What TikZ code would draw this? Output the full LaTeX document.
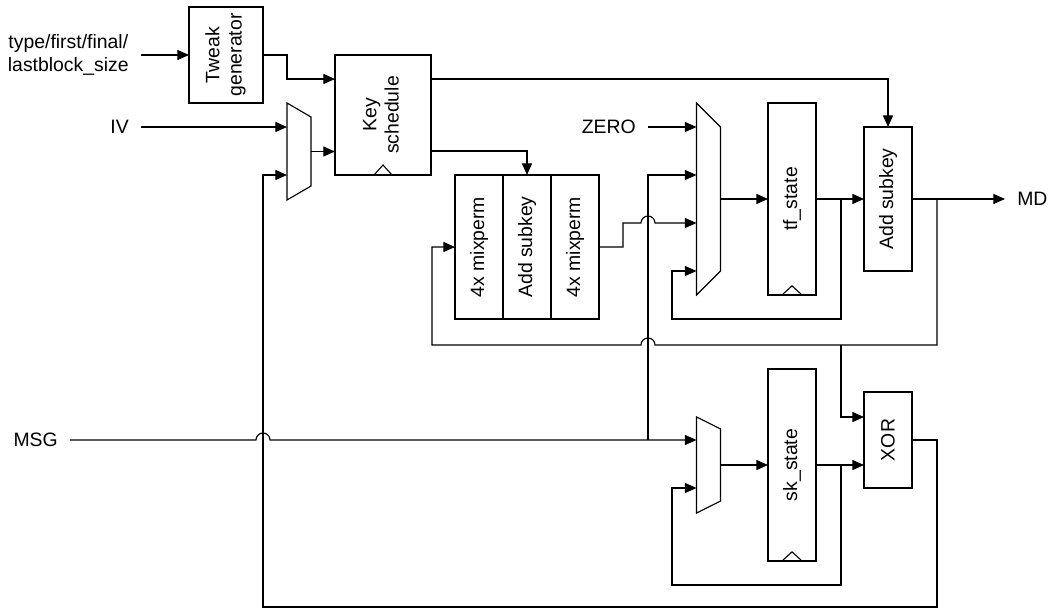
\documentclass[tikz,border=0pt]{standalone}
\usepackage{fontspec}
\setmainfont{Liberation Sans}
\usetikzlibrary{arrows.meta,calc}
\begin{document}
\begin{tikzpicture}[x=0.025cm,y=-0.025cm,
  font=\fontsize{13.8}{15.8}\selectfont,
  box/.style={draw, line width=0.8pt, inner sep=0pt, outer sep=0pt, minimum width=1.2cm},
  muxn/.style={inner sep=0pt, outer sep=0pt, minimum width=0.6cm},
  lbl/.style={inner xsep=0.3cm, inner ysep=0pt, align=center},
  wire/.style={line width=0.8pt},
  arr/.style={wire, -{Triangle[length=2.9mm,width=2.5mm]}}
]
\useasboundingbox (0,0) rectangle (1052,609);

% boxes
\node[box, minimum width=1.85cm, minimum height=2.4cm] (tw) at (226,55)
  {\rotatebox{90}{\begin{tabular}{@{}c@{}}Tweak\\generator\end{tabular}}};
\node[box, minimum width=2.4cm, minimum height=3cm] (key) at (383,115)
  {\rotatebox{90}{\begin{tabular}{@{}c@{}}Key\\schedule\end{tabular}}};
\node[box, minimum height=3.6cm] (mixa) at (479,247) {\rotatebox{90}{4x mixperm}};
\node[box, minimum height=3.6cm] (adda) at (527,247) {\rotatebox{90}{Add subkey}};
\node[box, minimum height=3.6cm] (mixb) at (575,247) {\rotatebox{90}{4x mixperm}};
\node[box, minimum height=4.8cm] (tf) at (792,199) {\rotatebox{90}{tf\_state}};
\node[box, minimum height=3.6cm] (addb) at (888,199) {\rotatebox{90}{Add subkey}};
\node[box, minimum height=4.8cm] (sk) at (792,465) {\rotatebox{90}{sk\_state}};
\node[box, minimum height=2.4cm] (xor) at (888,440) {\rotatebox{90}{XOR}};

% clock marks
\draw[wire] ([xshift=-0.225cm]key.south) -- ([yshift=0.25cm]key.south) -- ([xshift=0.225cm]key.south);
\draw[wire] ([xshift=-0.25cm]tf.south) -- ([yshift=0.23cm]tf.south) -- ([xshift=0.25cm]tf.south);
\draw[wire] ([xshift=-0.25cm]sk.south) -- ([yshift=0.23cm]sk.south) -- ([xshift=0.25cm]sk.south);

% multiplexers
\node[muxn, minimum height=2.425cm] (ma) at (299,151.5) {};
\node[muxn, minimum height=4.8cm] (mb) at (708.5,199) {};
\node[muxn, minimum height=2.4cm] (mc) at (708.5,465) {};
\draw[wire] (ma.north west) -- ([yshift=-0.35cm]ma.north east) -- ([yshift=0.35cm]ma.south east) -- (ma.south west) -- cycle;
\draw[wire] (mb.north west) -- ([yshift=-0.6cm]mb.north east) -- ([yshift=0.6cm]mb.south east) -- (mb.south west) -- cycle;
\draw[wire] (mc.north west) -- ([yshift=-0.3cm]mc.north east) -- ([yshift=0.3cm]mc.south east) -- (mc.south west) -- cycle;

% labels
\node[lbl, anchor=east] (tin) at (141,55) {type/first/final/\\lastblock\_size};
\node[lbl, anchor=east] (iv) at (141,127) {IV};
\node[lbl, anchor=east] (zero) at (648,127) {ZERO};
\node[lbl, anchor=east] (msg) at (70,440) {MSG};
\node[lbl, anchor=west] (md) at (1005,199) {MD};

% helper coordinates
\coordinate (tfo) at (841,199);
\coordinate (ako) at (937,199);
\coordinate (fb) at (937,345);
\coordinate (fbt) at (841,345);
\coordinate (skt) at (841,465);
\coordinate (mj) at (648,440);

% connectors
\draw[arr] (tin.east) -- (tw.west);
\draw[arr] (tw.east) -| (287,79) -- (key.west |- 0,79);
\draw[arr] (iv.east) -- (ma.west |- iv.east);
\draw[arr] (ma.east) -- (ma.east -| key.west);
\draw[arr] (key.east |- 0,79) -| (addb.north);
\draw[arr] (key.east |- 0,151) -| (adda.north);
\draw[arr] (mixb.east) -- (623,247) |- (641,223)
  arc[start angle=180,end angle=0,radius=0.175cm] -- (mb.west |- 0,223);
\draw[arr] (zero.east) -- (mb.west |- zero.east);
\draw[arr] (mb.east) -- (tf.west);
\draw[arr] (tf.east) -- (addb.west);
\draw[arr] (tfo) -- (841,319) -| (672,271) -- (mb.west |- 0,271);
\draw[arr] (addb.east) -- (md.west);
\draw[arr] (ako) -- (fb) -- (655,345)
  arc[start angle=0,end angle=180,radius=0.175cm] -- (432,345) |- (mixa.west);
\draw[arr] (fbt) |- (xor.west |- 0,417);
\draw[arr] (msg.east) -- (256,440)
  arc[start angle=180,end angle=0,radius=0.175cm] -- (mc.west |- 0,440);
\draw[arr] (mj) |- (mb.west |- 0,175);
\draw[arr] (mc.east) -- (sk.west);
\draw[arr] (sk.east) -- (xor.west |- sk.east);
\draw[arr] (skt) -- (841,585) -| (672,488) -- (mc.west |- 0,488);
\draw[arr] (xor.east) -| (937,607) -| (263,175) -- (ma.west |- 0,175);
\end{tikzpicture}
\end{document}
